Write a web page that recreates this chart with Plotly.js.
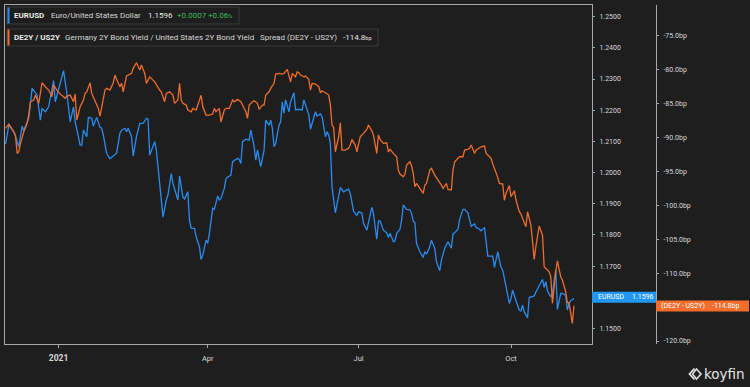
<!DOCTYPE html>
<html><head><meta charset="utf-8">
<script src="https://cdn.plot.ly/plotly-3.0.1.min.js"></script>
<style>html,body{margin:0;padding:0;background:#1e1e1e;overflow:hidden}#chart{width:750px;height:387px;}</style>
</head><body><div id="chart"></div>
<script>
const eurDates = ['2020-11-30','2020-12-02','2020-12-05','2020-12-06','2020-12-08','2020-12-10','2020-12-11','2020-12-14','2020-12-16','2020-12-19','2020-12-21','2020-12-22','2020-12-24','2020-12-26','2020-12-27','2020-12-29','2020-12-30',
'2021-01-01','2021-01-04','2021-01-06','2021-01-08','2021-01-10','2021-01-11','2021-01-14','2021-01-15','2021-01-16','2021-01-18','2021-01-19','2021-01-21','2021-01-22','2021-01-24','2021-01-26','2021-01-27','2021-01-28','2021-01-30',
'2021-02-01','2021-02-04','2021-02-05','2021-02-07','2021-02-08','2021-02-10','2021-02-11','2021-02-12','2021-02-14','2021-02-15','2021-02-17','2021-02-19','2021-02-21','2021-02-23','2021-02-24','2021-02-25','2021-02-28',
'2021-03-01','2021-03-03','2021-03-05','2021-03-07','2021-03-08','2021-03-10','2021-03-11','2021-03-14','2021-03-15','2021-03-17','2021-03-18','2021-03-20','2021-03-21','2021-03-22','2021-03-24','2021-03-25','2021-03-27','2021-03-28','2021-03-29','2021-03-31',
'2021-04-01','2021-04-02','2021-04-04','2021-04-05','2021-04-07','2021-04-08','2021-04-09','2021-04-11','2021-04-12','2021-04-13','2021-04-15','2021-04-16','2021-04-19','2021-04-20','2021-04-21','2021-04-22','2021-04-24','2021-04-26','2021-04-27','2021-04-29','2021-04-30',
'2021-05-01','2021-05-02','2021-05-03','2021-05-05','2021-05-06','2021-05-08','2021-05-09','2021-05-10','2021-05-11','2021-05-12','2021-05-14','2021-05-15','2021-05-16','2021-05-17','2021-05-18','2021-05-20','2021-05-21','2021-05-23','2021-05-24','2021-05-26','2021-05-28','2021-05-29','2021-05-30',
'2021-06-01','2021-06-02','2021-06-04','2021-06-05','2021-06-06','2021-06-08','2021-06-09','2021-06-11','2021-06-12','2021-06-13','2021-06-14','2021-06-15','2021-06-17','2021-06-19','2021-06-20','2021-06-22','2021-06-23','2021-06-25','2021-06-26','2021-06-28','2021-06-30',
'2021-07-01','2021-07-03','2021-07-04','2021-07-06','2021-07-08','2021-07-09','2021-07-10','2021-07-12','2021-07-13','2021-07-14','2021-07-16','2021-07-18','2021-07-19','2021-07-20','2021-07-22','2021-07-23','2021-07-24','2021-07-26','2021-07-27','2021-07-28','2021-07-30',
'2021-08-01','2021-08-02','2021-08-03','2021-08-04','2021-08-05','2021-08-07','2021-08-09','2021-08-10','2021-08-11','2021-08-13','2021-08-14','2021-08-16','2021-08-17','2021-08-19','2021-08-20','2021-08-22','2021-08-23','2021-08-24','2021-08-26','2021-08-27','2021-08-28','2021-08-30','2021-08-31',
'2021-09-02','2021-09-03','2021-09-05','2021-09-06','2021-09-07','2021-09-09','2021-09-10','2021-09-12','2021-09-13','2021-09-15','2021-09-16','2021-09-17','2021-09-19','2021-09-20','2021-09-21','2021-09-23','2021-09-24','2021-09-25','2021-09-26','2021-09-28','2021-09-30',
'2021-10-01','2021-10-02','2021-10-04','2021-10-06','2021-10-07','2021-10-08','2021-10-09','2021-10-11','2021-10-12','2021-10-13','2021-10-15','2021-10-16','2021-10-18','2021-10-20','2021-10-21','2021-10-22','2021-10-23','2021-10-25','2021-10-26','2021-10-28','2021-10-29','2021-10-31',
'2021-11-01','2021-11-03','2021-11-04','2021-11-05','2021-11-06','2021-11-08'];
const eurValues = [1.2091,1.2152,1.2131,1.2115,1.2083,1.2149,1.2134,1.2174,1.2270,1.2249,1.2168,1.2206,1.2195,1.2211,1.2238,1.2295,1.2227,
1.2265,1.2327,1.2254,1.2163,1.2211,1.2163,1.2088,1.2088,1.2136,1.2115,1.2177,1.2174,1.2149,1.2177,1.2145,1.2142,1.2120,1.2062,
1.2044,1.2056,1.2062,1.2126,1.2136,1.2142,1.2131,1.2142,1.2115,1.2053,1.2115,1.2158,1.2158,1.2174,1.2171,1.2056,1.2099,
1.2072,1.1954,1.1857,1.1912,1.1928,1.1997,1.1965,1.1912,1.1989,1.1922,1.1915,1.1938,1.1848,1.1821,1.1821,1.1794,1.1762,1.1721,1.1735,1.1783,
1.1773,1.1805,1.1885,1.1882,1.1925,1.1912,1.1917,1.1949,1.1980,1.1985,1.1992,1.2035,1.2046,1.2042,1.2029,1.2099,1.2107,1.2104,1.2136,1.2083,1.2040,
1.2072,1.2046,1.2019,1.2072,1.2168,1.2152,1.2168,1.2142,1.2083,1.2094,1.2152,1.2163,1.2227,1.2190,1.2233,1.2195,1.2227,1.2256,1.2201,1.2203,1.2201,1.2233,1.2217,
1.2185,1.2139,1.2179,1.2195,1.2181,1.2188,1.2179,1.2115,1.2131,1.2120,1.2094,1.1954,1.1871,1.1925,1.1952,1.1938,1.1942,1.1947,1.1933,1.1876,1.1862,
1.1874,1.1870,1.1837,1.1815,1.1864,1.1888,1.1869,1.1786,1.1845,1.1845,1.1815,1.1807,1.1792,1.1805,1.1778,1.1780,1.1805,1.1818,1.1848,1.1896,1.1882,
1.1880,1.1869,1.1845,1.1839,1.1773,1.1746,1.1728,1.1746,1.1738,1.1762,1.1783,1.1757,1.1714,1.1685,1.1719,1.1757,1.1767,1.1778,1.1757,1.1803,1.1807,1.1818,1.1850,
1.1882,1.1882,1.1871,1.1848,1.1828,1.1835,1.1824,1.1818,1.1813,1.1824,1.1778,1.1732,1.1732,1.1732,1.1696,1.1746,1.1719,1.1696,1.1687,1.1636,1.1580,
1.1596,1.1623,1.1589,1.1559,1.1556,1.1575,1.1553,1.1534,1.1599,1.1601,1.1604,1.1617,1.1639,1.1657,1.1632,1.1650,1.1621,1.1601,1.1612,1.1687,1.1561,1.1612,
1.1612,1.1607,1.1559,1.1580,1.1589,1.1596];

const sprDates = ['2020-11-30','2020-12-02','2020-12-04','2020-12-06','2020-12-07','2020-12-08','2020-12-09','2020-12-11','2020-12-13','2020-12-14','2020-12-15','2020-12-17','2020-12-18','2020-12-20','2020-12-21','2020-12-22','2020-12-24','2020-12-26','2020-12-28','2020-12-29','2020-12-31',
'2021-01-02','2021-01-04','2021-01-05','2021-01-06','2021-01-08','2021-01-10','2021-01-11','2021-01-12','2021-01-14','2021-01-16','2021-01-17','2021-01-18','2021-01-20','2021-01-21','2021-01-22','2021-01-24','2021-01-25','2021-01-26','2021-01-28','2021-01-29','2021-01-30',
'2021-02-01','2021-02-03','2021-02-04','2021-02-05','2021-02-07','2021-02-08','2021-02-09','2021-02-11','2021-02-12','2021-02-14','2021-02-15','2021-02-17','2021-02-19','2021-02-20','2021-02-22','2021-02-23','2021-02-25','2021-02-27','2021-02-28',
'2021-03-03','2021-03-04','2021-03-06','2021-03-07','2021-03-09','2021-03-11','2021-03-12','2021-03-14','2021-03-15','2021-03-16','2021-03-17','2021-03-19','2021-03-20','2021-03-22','2021-03-23','2021-03-25','2021-03-26','2021-03-28','2021-03-29','2021-03-31',
'2021-04-02','2021-04-04','2021-04-05','2021-04-06','2021-04-08','2021-04-09','2021-04-11','2021-04-12','2021-04-14','2021-04-16','2021-04-17','2021-04-19','2021-04-21','2021-04-22','2021-04-24','2021-04-25','2021-04-26','2021-04-28','2021-04-29',
'2021-05-01','2021-05-02','2021-05-04','2021-05-05','2021-05-06','2021-05-08','2021-05-09','2021-05-11','2021-05-12','2021-05-14','2021-05-16','2021-05-17','2021-05-19','2021-05-20','2021-05-21','2021-05-22','2021-05-24','2021-05-25','2021-05-26','2021-05-27','2021-05-29','2021-05-30',
'2021-06-01','2021-06-02','2021-06-03','2021-06-05','2021-06-07','2021-06-08','2021-06-09','2021-06-11','2021-06-13','2021-06-14','2021-06-15','2021-06-16','2021-06-17','2021-06-19','2021-06-20','2021-06-21','2021-06-23','2021-06-25','2021-06-26','2021-06-27','2021-06-29','2021-06-30',
'2021-07-02','2021-07-04','2021-07-06','2021-07-07','2021-07-09','2021-07-10','2021-07-11','2021-07-12','2021-07-13','2021-07-14','2021-07-16','2021-07-18','2021-07-19','2021-07-20','2021-07-22','2021-07-24','2021-07-25','2021-07-26','2021-07-28','2021-07-29','2021-07-30',
'2021-08-01','2021-08-02','2021-08-03','2021-08-04','2021-08-05','2021-08-07','2021-08-09','2021-08-10','2021-08-11','2021-08-13','2021-08-14','2021-08-16','2021-08-17','2021-08-19','2021-08-20','2021-08-21','2021-08-23','2021-08-24','2021-08-26','2021-08-27','2021-08-28','2021-08-30','2021-08-31',
'2021-09-02','2021-09-03','2021-09-05','2021-09-06','2021-09-07','2021-09-09','2021-09-10','2021-09-12','2021-09-13','2021-09-15','2021-09-16','2021-09-17','2021-09-19','2021-09-20','2021-09-22','2021-09-23','2021-09-24','2021-09-26','2021-09-27','2021-09-28','2021-09-30',
'2021-10-01','2021-10-03','2021-10-04','2021-10-06','2021-10-07','2021-10-09','2021-10-10','2021-10-11','2021-10-13','2021-10-14','2021-10-15','2021-10-16','2021-10-18','2021-10-20','2021-10-21','2021-10-23','2021-10-24','2021-10-25','2021-10-26','2021-10-28','2021-10-29','2021-10-31',
'2021-11-01','2021-11-03','2021-11-04','2021-11-05','2021-11-07','2021-11-08'];
const sprValues = [-88.63,-88.00,-88.78,-89.62,-92.32,-92.08,-90.84,-89.13,-87.89,-86.67,-84.71,-84.45,-83.72,-84.94,-83.47,-81.90,-82.49,-82.98,-83.97,-82.24,-82.98,
-83.57,-83.97,-84.20,-83.86,-83.72,-84.71,-83.57,-87.40,-85.44,-84.45,-83.47,-83.23,-81.90,-83.47,-83.97,-84.94,-85.68,-86.81,-84.20,-82.98,-82.73,
-82.98,-81.90,-80.77,-81.40,-82.49,-81.99,-83.23,-80.91,-80.77,-80.52,-79.78,-78.95,-80.03,-79.29,-80.52,-81.99,-81.02,-81.50,-81.76,
-82.98,-83.23,-84.71,-83.47,-83.23,-83.72,-84.94,-84.45,-81.99,-84.45,-84.94,-85.19,-85.93,-86.18,-85.68,-85.93,-85.19,-83.72,-85.44,-86.67,
-86.67,-86.52,-85.68,-86.18,-85.68,-87.66,-85.93,-85.68,-85.68,-84.45,-84.71,-84.35,-84.71,-85.19,-86.18,-87.15,-85.19,-84.71,-84.56,
-84.94,-85.83,-85.19,-85.19,-83.72,-83.23,-82.73,-81.99,-80.62,-80.52,-80.62,-80.52,-79.93,-81.02,-81.76,-80.52,-81.02,-80.28,-80.43,-80.77,-81.02,-80.91,
-81.40,-82.98,-81.99,-82.10,-82.49,-83.38,-83.08,-83.38,-83.72,-85.19,-88.14,-88.48,-92.08,-89.87,-87.80,-91.83,-91.83,-91.58,-91.09,-90.25,-91.09,-92.08,
-89.87,-89.37,-88.78,-88.14,-88.98,-89.62,-90.94,-92.32,-89.62,-90.25,-90.84,-90.75,-92.08,-91.73,-92.32,-92.82,-94.78,-95.37,-95.77,-95.37,-94.04,
-93.55,-94.19,-95.27,-97.24,-96.74,-97.48,-98.22,-96.99,-96.74,-94.78,-94.53,-95.52,-95.86,-96.50,-96.99,-97.48,-96.74,-97.63,-97.73,-94.78,-93.55,-93.05,-92.82,
-92.82,-91.83,-91.73,-91.58,-91.09,-92.32,-91.83,-91.43,-91.34,-91.24,-92.32,-92.57,-93.05,-93.89,-95.03,-95.86,-96.74,-96.84,-99.25,-98.22,-97.07,
-98.72,-97.83,-99.20,-100.93,-101.27,-102.55,-103.14,-100.93,-102.89,-105.35,-107.95,-106.09,-103.04,-104.37,-109.04,-109.53,-109.78,-110.52,-114.44,-109.78,-108.16,-110.52,
-111.00,-112.73,-114.35,-114.35,-117.39,-114.8];

const xTickVals = ['2021-01-01','2021-04-01','2021-07-01','2021-10-01'];
const xTickText = ['<span style="font-size:8.5px"><b>2021</b></span>','Apr','Jul','Oct'];
const eurTicks = [1.15,1.17,1.18,1.19,1.20,1.21,1.22,1.23,1.24,1.25];
const sprTicks = [-75,-80,-85,-90,-95,-100,-105,-110,-120];

const W=750,H=387,L=5,R=5,T=5,B=43;
const PW=W-L-R, PH=H-T-B;
const px = x => (x-L)/PW;
const py = y => (H-B-y)/PH;

const BG='#1e1e1e', AX='#a8a8a8', TXT='#d8d8d8';
const BLUE='#2a8cf0', ORANGE='#ef6d2d', BLUEBOX='#2196f3', ORANGEBOX='#f26d2c', GREEN='#3cbf5e';
const FONT='Roboto, "Liberation Sans", sans-serif';
const LF=8;

const traces = [
  {x: eurDates, y: eurValues, type:'scatter', mode:'lines', yaxis:'y', line:{color:BLUE, width:1.3}, hoverinfo:'skip'},
  {x: sprDates, y: sprValues, type:'scatter', mode:'lines', yaxis:'y2', line:{color:ORANGE, width:1.3}, hoverinfo:'skip'}
];

function rect(x0,y0,x1,y1,fill,line){
  return {type:'rect', xref:'paper', yref:'paper', x0:px(x0), x1:px(x1), y0:py(y1), y1:py(y0),
    fillcolor:fill, line:{color:line||fill, width: line?1:0}, layer:'above'};
}
function txt(x,y,text,opts){
  return Object.assign({xref:'paper', yref:'paper', x:px(x), y:py(y), text:text, showarrow:false,
    xanchor:'left', yanchor:'middle', borderpad:0, font:{family:FONT, size:LF, color:TXT}}, opts||{});
}

const shapes = [
  rect(7,7,239,24,BG,'#3a3a3a'),
  rect(7.5,7.5,9.5,23.5,BLUE),
  rect(7,29,378,46,BG,'#3a3a3a'),
  rect(7.5,29.5,9.5,45.5,ORANGE),
  rect(592,291.7,656,302.7,BLUEBOX),
  rect(656,300.5,749,311.5,ORANGEBOX),
  {type:'path', xref:'paper', yref:'paper', layer:'above',
   path:`M ${px(694.5)},${py(368.5)} L ${px(689.5)},${py(374)} L ${px(694.5)},${py(379.5)}`,
   line:{color:'#e0e0e0', width:1.8}},
  {type:'path', xref:'paper', yref:'paper', layer:'above',
   path:`M ${px(696.5)},${py(369)} L ${px(701)},${py(374)} L ${px(696.5)},${py(379)} L ${px(692.5)},${py(374)} Z`,
   line:{color:'#e0e0e0', width:1.6}}
];

const annotations = [
  txt(12.5,15.5,'<b>EURUSD</b>',{font:{family:FONT,size:LF,color:'#e8e8e8'}}),
  txt(49.5,15.5,'Euro/United States Dollar'),
  txt(146.5,15.5,'1.1596',{font:{family:FONT,size:LF,color:'#e8e8e8'}}),
  txt(175.5,15.5,'+0.0007',{font:{family:FONT,size:LF,color:GREEN}}),
  txt(207.5,15.5,'+0.06<span style="font-size:5.5px">%</span>',{font:{family:FONT,size:LF,color:GREEN}}),
  txt(12.5,37.5,'<b>DE2Y / US2Y</b>',{font:{family:FONT,size:LF,color:'#e8e8e8'}}),
  txt(63.5,37.5,'Germany 2Y Bond Yield / United States 2Y Bond Yield'),
  txt(258.5,37.5,'Spread (DE2Y - US2Y)'),
  txt(341.5,37.5,'-114.8<span style="font-size:5.5px">bp</span>',{font:{family:FONT,size:LF,color:'#e8e8e8'}}),
  txt(596.5,297.2,'EURUSD',{font:{family:FONT,size:7,color:'#ffffff'}}),
  txt(630.5,297.2,'1.1596',{font:{family:FONT,size:7,color:'#ffffff'}}),
  txt(659.5,306,'(DE2Y - US2Y)',{font:{family:FONT,size:7,color:'#ffffff'}}),
  txt(711,306,'-114.8bp',{font:{family:FONT,size:7,color:'#ffffff'}}),
  txt(703,374,'koyfin',{font:{family:'"DejaVu Sans", sans-serif',size:13.5,color:'#e6e6e6'}})
];

const layout = {
  width:W, height:H,
  margin:{l:L, r:R, t:T, b:B, pad:0},
  paper_bgcolor:BG, plot_bgcolor:BG,
  showlegend:false, hovermode:false,
  xaxis:{type:'date', domain:[0, px(592)], range:['2020-11-29 16:00','2021-11-18 21:00'],
    tickvals:xTickVals, ticktext:xTickText, ticks:'outside', ticklen:3, tickcolor:AX,
    tickfont:{family:FONT, size:7.5, color:TXT}, showgrid:false, zeroline:false,
    showline:true, mirror:true, linecolor:AX, linewidth:1, ticklabelstandoff:4},
  yaxis:{side:'right', anchor:'x', range:[1.1450,1.25375], tickvals:eurTicks,
    ticktext:eurTicks.map(v=>v.toFixed(4)), ticks:'outside', ticklen:2, tickcolor:AX,
    tickfont:{family:FONT, size:7, color:TXT}, showgrid:false, zeroline:false,
    showline:true, mirror:true, linecolor:AX, linewidth:1, ticklabelstandoff:3},
  yaxis2:{side:'right', overlaying:'y', anchor:'free', position:px(656), range:[-120.44,-70.43],
    tickvals:sprTicks, ticktext:sprTicks.map(v=>v.toFixed(1)+'bp'), ticks:'outside', ticklen:2, tickcolor:AX,
    tickfont:{family:FONT, size:7, color:TXT}, showgrid:false, zeroline:false,
    showline:true, linecolor:AX, linewidth:1, ticklabelstandoff:3},
  shapes:shapes, annotations:annotations
};

Plotly.newPlot('chart', traces, layout, {staticPlot:true, displayModeBar:false});
</script></body></html>
